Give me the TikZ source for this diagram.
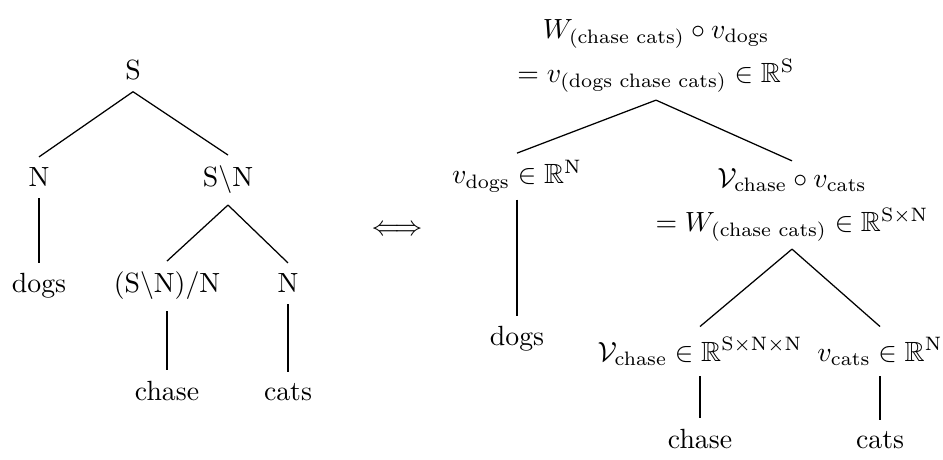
\documentclass[tikz,border=0pt]{standalone}
\usepackage{amsmath,amssymb}
\begin{document}
\begin{tikzpicture}[x=0.36pt,y=-0.36pt,
  lbl/.style={inner sep=3.8pt, anchor=base},
  stack/.style={inner xsep=3.8pt, inner ysep=2.5pt, align=center, anchor=center},
  edge/.style={line width=0.45pt}]
\useasboundingbox (0,0) rectangle (943,460);
% left tree
\node[lbl] (S) at (133,80) {S};
\node[lbl] (N1) at (39,187) {N};
\node[lbl] (SN) at (228,187) {S$\backslash$N};
\node[lbl] (dogsA) at (39,293) {dogs};
\node[lbl] (SNN) at (167,293) {(S$\backslash$N)/N};
\node[lbl] (N2) at (288,293) {N};
\node[lbl] (chaseA) at (167,400) {chase};
\node[lbl] (catsA) at (288,400) {cats};
\draw[edge] (S.south) -- (N1.north);
\draw[edge] (S.south) -- (SN.north);
\draw[edge] (N1.south) -- (dogsA.north);
\draw[edge] (SN.south) -- (SNN.north);
\draw[edge] (SN.south) -- (N2.north);
\draw[edge] (SNN.south) -- (chaseA.north);
\draw[edge] (N2.south) -- (catsA.north);
% equivalence
\node (iff) at (397,230) {$\Longleftrightarrow$};
% right tree
\node[stack] (top) at (656,56) {$W_{\text{(chase cats)}} \circ v_{\text{dogs}}$\\[4pt]$= v_{\text{(dogs chase cats)}} \in \mathbb{R}^{\mathrm{S}}$};
\node[lbl, inner ysep=2.5pt] (lc) at (517,184) {$v_{\text{dogs}} \in \mathbb{R}^{\mathrm{N}}$};
\node[stack] (rc) at (792,205) {$\mathcal{V}_{\text{chase}} \circ v_{\text{cats}}$\\[4pt]$= W_{\text{(chase cats)}} \in \mathbb{R}^{\mathrm{S}\times\mathrm{N}}$};
\node[lbl] (dogsB) at (517,346) {dogs};
\node[lbl] (gcA) at (700,361) {$\mathcal{V}_{\text{chase}} \in \mathbb{R}^{\mathrm{S}\times\mathrm{N}\times\mathrm{N}}$};
\node[lbl] (gcB) at (880,361) {$v_{\text{cats}} \in \mathbb{R}^{\mathrm{N}}$};
\node[lbl] (chaseB) at (700,448) {chase};
\node[lbl] (catsB) at (880,448) {cats};
\draw[edge] (top.south) -- (lc.north);
\draw[edge] (top.south) -- (rc.north);
\draw[edge] (lc.south) -- (dogsB.north);
\draw[edge] (rc.south) -- (gcA.north);
\draw[edge] (rc.south) -- (gcB.north);
\draw[edge] (gcA.south) -- (chaseB.north);
\draw[edge] (gcB.south) -- (catsB.north);
\end{tikzpicture}
\end{document}
